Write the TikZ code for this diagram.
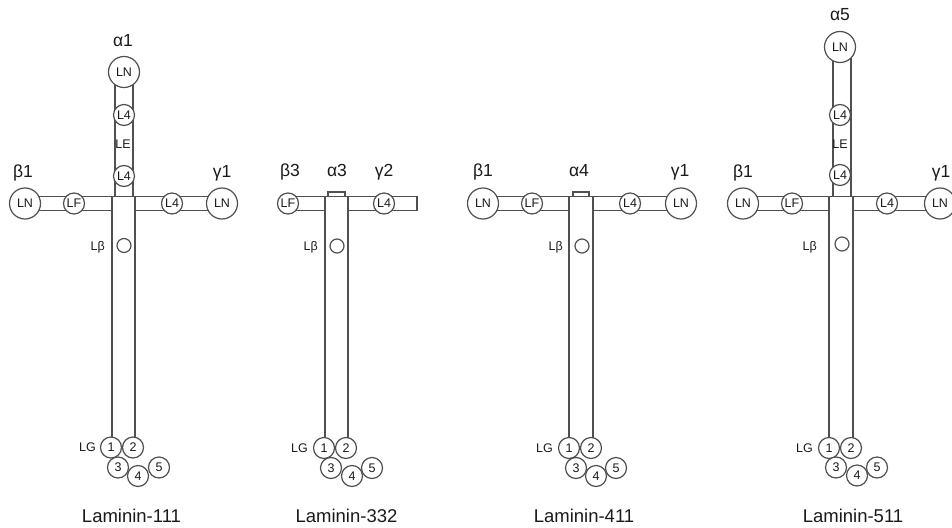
\documentclass[tikz,border=0pt]{standalone}
\usepackage{fontspec}
\setmainfont{Liberation Sans}
\definecolor{lc}{HTML}{505050}
\definecolor{tc}{HTML}{1A1A1A}
\begin{document}
\begin{tikzpicture}[x=1pt,y=-1pt,
  ln/.style={draw=lc, fill=white, circle, minimum size=31pt, inner sep=0pt, line width=1.2pt, font=\fontsize{12.5}{13}\selectfont, text=tc},
  sm/.style={draw=lc, fill=white, circle, minimum size=21pt, inner sep=0pt, line width=1.2pt, font=\fontsize{12.5}{13}\selectfont, text=tc},
  dot/.style={draw=lc, fill=white, circle, minimum size=14pt, inner sep=0pt, line width=1.2pt},
  chain/.style={anchor=base, font=\fontsize{17.5}{19}\selectfont, text=tc},
  lab/.style={font=\fontsize{12.5}{13}\selectfont, text=tc, inner sep=0pt},
  ttl/.style={anchor=base, font=\fontsize{18.5}{21}\selectfont, text=tc},
  rod/.style={draw=lc, line width=1.2pt},
]
\useasboundingbox (0,0) rectangle (952,527);
\clip (0,0) rectangle (952,527);

% ===================== Laminin-111 =====================
\draw[rod] (25,196.5) -- (222,196.5);
\draw[rod] (25,210.5) -- (112,210.5);
\draw[rod] (135,210.5) -- (222,210.5);
\draw[rod] (112,196.5) -- (112,447);
\draw[rod] (135,196.5) -- (135,447);
\draw[rod] (115,72) -- (115,196.5);
\draw[rod] (133,72) -- (133,196.5);
\node[chain] (a1) at (123,46) {α1};
\node[ln] (a1ln) at (124,72) {LN};
\node[sm] (a1l4a) at (124,115) {L4};
\node[lab] (a1le) at (123,144) {LE};
\node[sm] (a1l4b) at (124,176) {L4};
\node[chain] (b1) at (23,177.5) {β1};
\node[ln] (b1ln) at (25,203.5) {LN};
\node[sm] (b1lf) at (74,203.5) {LF};
\node[chain] (g1) at (222,177.5) {γ1};
\node[sm] (g1l4) at (172,203.5) {L4};
\node[ln] (g1ln) at (222,203.5) {LN};
\node[dot] (a1lb) at (124,245.5) {};
\node[lab, anchor=base east] (a1lbt) at (105,250) {Lβ};
\node[sm] (a1g1) at (111,447.5) {1};
\node[sm] (a1g2) at (133,447.5) {2};
\node[sm] (a1g3) at (118,467.5) {3};
\node[sm] (a1g4) at (138,476) {4};
\node[sm] (a1g5) at (159,467.5) {5};
\node[lab, anchor=east] (a1lg) at (96,447.5) {LG};
\node[ttl] (t111) at (131.5,522) {Laminin-111};

% ===================== Laminin-332 =====================
\draw[rod] (288,196.5) -- (417,196.5) -- (417,210.5) -- (348,210.5);
\draw[rod] (288,210.5) -- (325,210.5);
\draw[rod] (325,196.5) -- (325,448);
\draw[rod] (348,196.5) -- (348,448);
\draw[rod] (328,196.5) -- (328,192) -- (345,192) -- (345,196.5);
\node[chain] (b3) at (290,176) {β3};
\node[chain] (a3) at (337,176) {α3};
\node[chain] (g2) at (384,176) {γ2};
\node[sm] (b3lf) at (288,203.5) {LF};
\node[sm] (g2l4) at (384,203.5) {L4};
\node[dot] (a3lb) at (337,246) {};
\node[lab, anchor=base east] (a3lbt) at (318,250.5) {Lβ};
\node[sm] (a3g1) at (324,448) {1};
\node[sm] (a3g2) at (346,448) {2};
\node[sm] (a3g3) at (331,468) {3};
\node[sm] (a3g4) at (352,476) {4};
\node[sm] (a3g5) at (372,468) {5};
\node[lab, anchor=east] (a3lg) at (308,448) {LG};
\node[ttl] (t332) at (346.5,522) {Laminin-332};

% ===================== Laminin-411 =====================
\draw[rod] (483,196.5) -- (681,196.5);
\draw[rod] (483,210.5) -- (569,210.5);
\draw[rod] (593,210.5) -- (681,210.5);
\draw[rod] (569,196.5) -- (569,448);
\draw[rod] (593,196.5) -- (593,448);
\draw[rod] (573,196.5) -- (573,192) -- (589,192) -- (589,196.5);
\node[chain] (b1b) at (483,176) {β1};
\node[chain] (a4) at (579,176) {α4};
\node[chain] (g1b) at (680,176) {γ1};
\node[ln] (b1bln) at (483,203.5) {LN};
\node[sm] (b1blf) at (532,203.5) {LF};
\node[sm] (g1bl4) at (630,203.5) {L4};
\node[ln] (g1bln) at (681,203.5) {LN};
\node[dot] (a4lb) at (582,246) {};
\node[lab, anchor=base east] (a4lbt) at (563,250.5) {Lβ};
\node[sm] (a4g1) at (569,448) {1};
\node[sm] (a4g2) at (591,448) {2};
\node[sm] (a4g3) at (576,468) {3};
\node[sm] (a4g4) at (596,476) {4};
\node[sm] (a4g5) at (616,468) {5};
\node[lab, anchor=east] (a4lg) at (553,448) {LG};
\node[ttl] (t411) at (584,522) {Laminin-411};

% ===================== Laminin-511 =====================
\draw[rod] (743,196.5) -- (940,196.5);
\draw[rod] (743,210.5) -- (829,210.5);
\draw[rod] (853,210.5) -- (940,210.5);
\draw[rod] (829,196.5) -- (829,448);
\draw[rod] (853,196.5) -- (853,448);
\draw[rod] (833,47) -- (833,196.5);
\draw[rod] (851,47) -- (851,196.5);
\node[chain] (a5) at (840,21) {α5};
\node[ln] (a5ln) at (840,47) {LN};
\node[sm] (a5l4a) at (840,115) {L4};
\node[lab] (a5le) at (840,144) {LE};
\node[sm] (a5l4b) at (840,175) {L4};
\node[chain] (b1c) at (743,177.5) {β1};
\node[ln] (b1cln) at (743,203.5) {LN};
\node[sm] (b1clf) at (792,203.5) {LF};
\node[chain] (g1c) at (941,177.5) {γ1};
\node[sm] (g1cl4) at (887,203.5) {L4};
\node[ln] (g1cln) at (940,203.5) {LN};
\node[dot] (a5lb) at (842,244) {};
\node[lab, anchor=base east] (a5lbt) at (817,250) {Lβ};
\node[sm] (a5g1) at (829,448) {1};
\node[sm] (a5g2) at (851,448) {2};
\node[sm] (a5g3) at (836,467.5) {3};
\node[sm] (a5g4) at (857,475.5) {4};
\node[sm] (a5g5) at (877,467.5) {5};
\node[lab, anchor=east] (a5lg) at (813,448) {LG};
\node[ttl] (t511) at (853,522) {Laminin-511};
\end{tikzpicture}
\end{document}
